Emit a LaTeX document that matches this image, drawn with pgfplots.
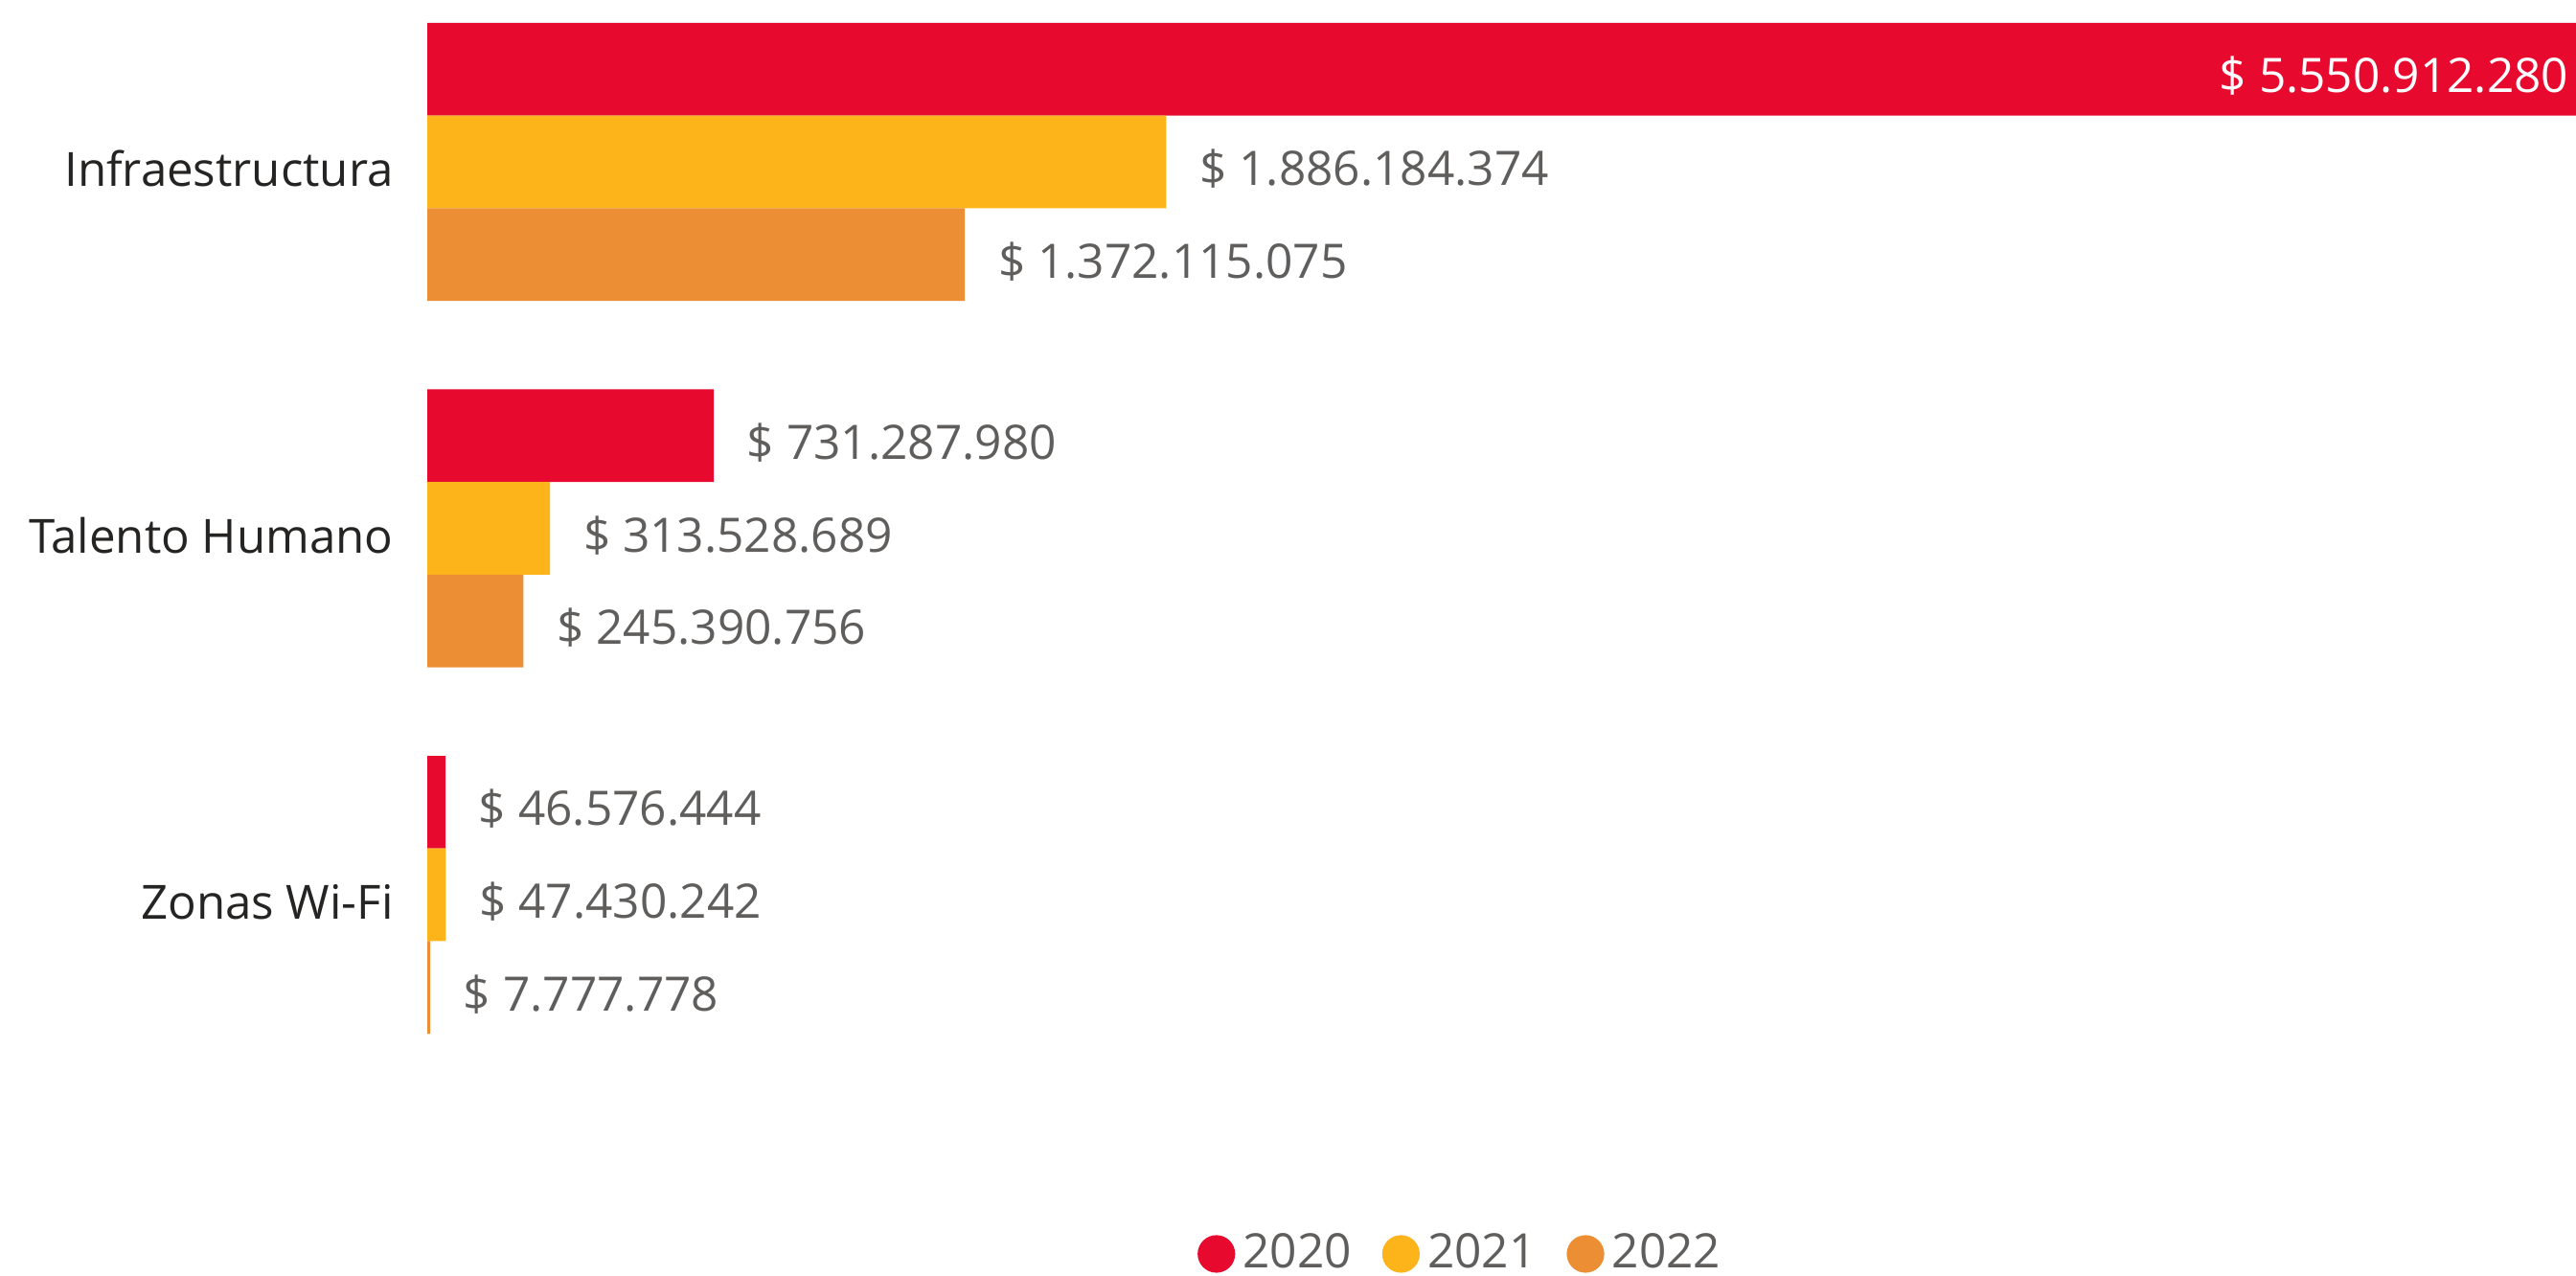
\documentclass[border=0pt]{standalone}
\usepackage{pgfplots}
\pgfplotsset{compat=1.18}
\usepackage{pgfplotstable}
\usepackage{fontspec}
\setmainfont{Open Sans}
\definecolor{c20}{RGB}{232,9,46}
\definecolor{c21}{RGB}{253,180,27}
\definecolor{c22}{RGB}{236,142,51}
\definecolor{lbl}{RGB}{96,94,92}
\definecolor{cat}{RGB}{37,36,35}

\pgfplotstableread{
y val label
0 5550912280 {}
1 731287980 \$~731.287.980
2 46576444 \$~46.576.444
}\dataA
\pgfplotstableread{
y val label
0 1886184374 \$~1.886.184.374
1 313528689 \$~313.528.689
2 47430242 \$~47.430.242
}\dataB
\pgfplotstableread{
y val label
0 1372115075 \$~1.372.115.075
1 245390756 \$~245.390.756
2 7777778 \$~7.777.778
}\dataC

\begin{document}
\begin{tikzpicture}
\path[use as bounding box] (0pt,0pt) rectangle (672.25pt,332.75pt);
\begin{axis}[
 at={(111.5pt,332.75pt)}, anchor=north west,
 scale only axis, width=560.75pt, height=290.875pt,
 xbar=0pt, bar width=24.17pt,
 xmin=0, xmax=5484100000,
 ymin=-0.4418, ymax=2.6, y dir=reverse,
 ytick={0,1,2}, yticklabels={Infraestructura,Talento Humano,Zonas Wi-Fi},
 xtick=\empty,
 axis line style={draw=none}, tick style={draw=none},
 yticklabel style={font=\fontsize{12.3}{14}\selectfont, text=cat, inner sep=0pt, xshift=-4.4pt, yshift=-1.8pt},
 point meta=explicit symbolic,
 nodes near coords={\pgfplotspointmeta},
 every node near coord/.append style={font=\fontsize{12.4}{14}\selectfont, text=lbl, inner sep=0pt, anchor=west, xshift=8.5pt, yshift=-1.8pt},
 legend columns=-1,
 legend style={draw=none, at={(0.482,-0.125)}, anchor=center, font=\fontsize{12.4}{14}\selectfont, text=lbl,
   /tikz/every even column/.append style={column sep=6pt}},
 legend image code/.code={\fill[#1,draw=none] (4.9pt,0pt) circle (4.9pt);},
]
\addplot[fill=c20, draw=none, bar shift=24.17pt] table[x=val,y=y,meta=label]{\dataA};
\addplot[fill=c21, draw=none, bar shift=0pt] table[x=val,y=y,meta=label]{\dataB};
\addplot[fill=c22, draw=none, bar shift=-24.17pt] table[x=val,y=y,meta=label]{\dataC};
\legend{2020,2021,2022}
\node[anchor=east, inner sep=0pt, text=white, font=\fontsize{12.4}{14}\selectfont, xshift=-1.75pt, yshift=-1.8pt] at (axis cs:5484100000,-0.2528) {\$~5.550.912.280};
\end{axis}
\end{tikzpicture}
\end{document}
